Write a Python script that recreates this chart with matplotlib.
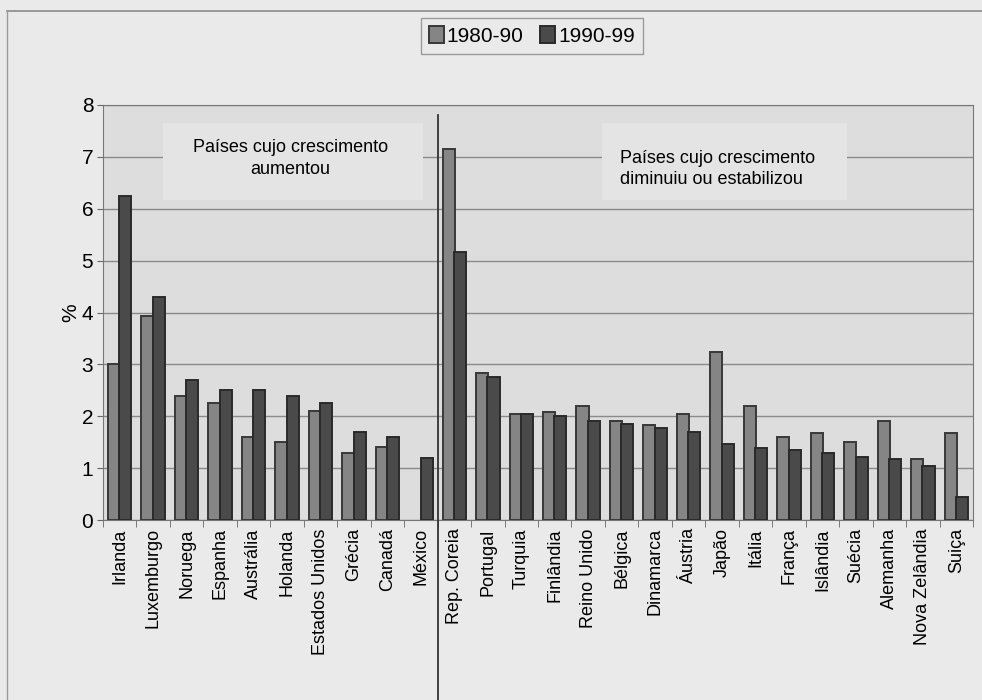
import matplotlib.pyplot as plt
import numpy as np
from matplotlib.patches import Rectangle
from matplotlib.lines import Line2D

plt.rcParams['font.family'] = ['Liberation Sans', 'DejaVu Sans']

# Países que aceleraram o crescimento (esquerda) e os que abrandaram (direita)
paises_aumentou = ["Irlanda", "Luxemburgo", "Noruega", "Espanha", "Austrália",
                   "Holanda", "Estados Unidos", "Grécia", "Canadá", "México"]
paises_diminuiu = ["Rep. Coreia", "Portugal", "Turquia", "Finlândia", "Reino Unido",
                   "Bélgica", "Dinamarca", "Áustria", "Japão", "Itália", "França",
                   "Islândia", "Suécia", "Alemanha", "Nova Zelândia", "Suiça"]

# taxas de crescimento médio anual (%); México sem dado para 1980-90
v1980_aumentou = [3.0, 3.94, 2.4, 2.25, 1.6, 1.5, 2.1, 1.3, 1.4, np.nan]
v1990_aumentou = [6.25, 4.3, 2.7, 2.5, 2.5, 2.4, 2.25, 1.7, 1.6, 1.2]
v1980_diminuiu = [7.15, 2.84, 2.05, 2.09, 2.2, 1.9, 1.83, 2.05, 3.23, 2.2, 1.6,
                  1.68, 1.51, 1.91, 1.18, 1.68]
v1990_diminuiu = [5.16, 2.75, 2.05, 2.0, 1.9, 1.85, 1.77, 1.7, 1.46, 1.38, 1.34,
                  1.29, 1.22, 1.18, 1.04, 0.45]

paises = paises_aumentou + paises_diminuiu
v1980 = np.array(v1980_aumentou + v1980_diminuiu)
v1990 = np.array(v1990_aumentou + v1990_diminuiu)
x = np.arange(len(paises))

fig = plt.figure(figsize=(9.82, 7.0), dpi=100, facecolor='#eaeaea')
ax = fig.add_axes([103/982, 1-520/700, 870/982, 415/700])
ax.set_facecolor('#dddddd')

# moldura do gráfico (só topo e lado esquerdo ficam à vista)
fig.add_artist(Line2D([7/982, 1.0], [1-11/700, 1-11/700], transform=fig.transFigure,
                      color='#8a8a8a', lw=1.2))
fig.add_artist(Line2D([7/982, 7/982], [0.0, 1-11/700], transform=fig.transFigure,
                      color='#9a9a9a', lw=1.0))

w = 0.36
ax.bar(x - 0.17, v1980, w, color='#858585', edgecolor='#383838', lw=1.4, zorder=3,
       label='1980-90')
ax.bar(x + 0.17, v1990, w, color='#4a4a4a', edgecolor='#2a2a2a', lw=1.4, zorder=3,
       label='1990-99')

ax.set_xlim(-0.5, len(paises) - 0.5)
ax.set_ylim(0, 8)
ax.set_yticks(range(0, 9))
ax.yaxis.grid(True, color='#8a8a8a', lw=1.0, zorder=0)
ax.set_axisbelow(True)
ax.tick_params(axis='y', labelsize=15, length=4, color='#666666', pad=3)
ax.set_xticks(x)
ax.set_xticklabels(paises, rotation=90, fontsize=13)
ax.set_xticks(np.arange(-0.5, len(paises)), minor=True)
ax.tick_params(axis='x', which='major', length=0, pad=6)
ax.tick_params(axis='x', which='minor', length=5, color='#666666')
for s in ax.spines.values():
    s.set_color('#777777')
ax.set_ylabel('%', fontsize=15, labelpad=1)

# caixas de texto por cima da grelha
ax.add_patch(Rectangle((1.29, 6.17), 7.77, 1.48, fc='#e4e4e4', ec='none', zorder=4))
ax.text(5.1, 6.97, "Países cujo crescimento\naumentou", ha='center', va='center',
        fontsize=13, linespacing=1.35, zorder=5)
ax.add_patch(Rectangle((14.41, 6.17), 7.33, 1.48, fc='#e4e4e4', ec='none', zorder=4))
ax.text(14.95, 6.77, "Países cujo crescimento\ndiminuiu ou estabilizou", ha='left',
        va='center', fontsize=13, linespacing=1.35, zorder=5)

# linha que separa os dois grupos
sep = len(paises_aumentou) - 0.5
ax.add_line(Line2D([sep, sep], [-0.434, 0.976], transform=ax.get_xaxis_transform(),
                   color='#333333', lw=1.3, clip_on=False, zorder=6))

leg = fig.legend(loc='center', bbox_to_anchor=(532/982, 1-36/700), ncol=2, fontsize=15,
                 frameon=True, fancybox=False, handlelength=0.7, handleheight=0.9,
                 handletextpad=0.15, columnspacing=0.8, borderpad=0.4)
leg.get_frame().set_facecolor('#eaeaea')
leg.get_frame().set_edgecolor('#888888')

fig.savefig('out.png', dpi=100, facecolor=fig.get_facecolor())
